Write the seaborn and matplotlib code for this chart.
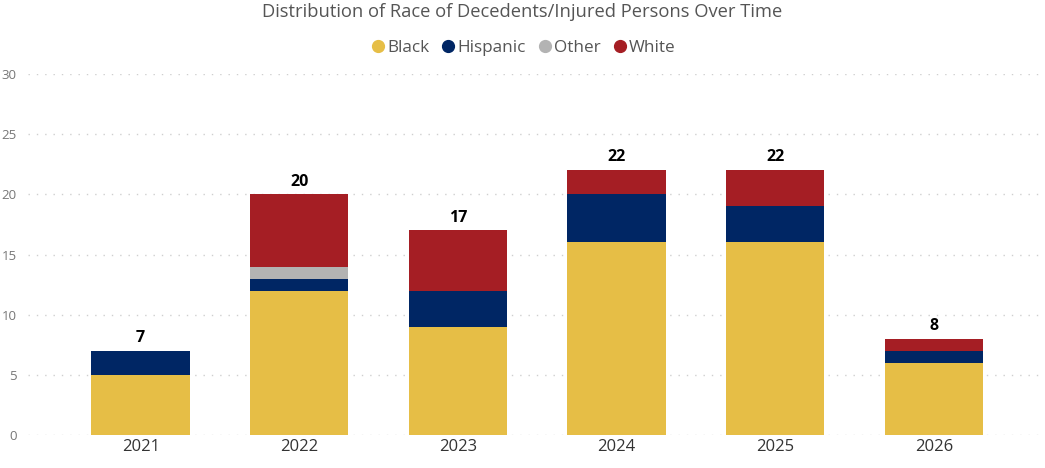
import matplotlib
matplotlib.use("Agg")
import matplotlib.pyplot as plt
from matplotlib.lines import Line2D
import seaborn as sns
import pandas as pd
import numpy as np

years = ["2021", "2022", "2023", "2024", "2025", "2026"]
black = [5, 12, 9, 16, 16, 6]
hispanic = [2, 1, 3, 4, 3, 1]
other = [0, 1, 0, 0, 0, 0]
white = [0, 6, 5, 2, 3, 1]
series_names = ["Black", "Hispanic", "Other", "White"]
colors = {"Black": "#E6BE46", "Hispanic": "#002664", "Other": "#B3B3B3", "White": "#A51E24"}
yticks = [0, 5, 10, 15, 20, 25, 30]

sns.set_theme(style="white")
plt.rcParams["font.family"] = ["Open Sans", "DejaVu Sans"]

df = pd.DataFrame({"Year": years, "Black": black, "Hispanic": hispanic,
                   "Other": other, "White": white})
cum = df[series_names].cumsum(axis=1)
totals = cum["White"].values

fig = plt.figure(figsize=(10.45, 4.68), dpi=100)
ax = fig.add_axes([28 / 1045, 1 - 435 / 468, 1 - 28 / 1045, (435 - 74) / 468])

for name in reversed(series_names):
    sns.barplot(x=df["Year"], y=cum[name], color=colors[name], width=0.62,
                ax=ax, saturation=1, zorder=3, linewidth=0)

for i, t in enumerate(totals):
    ax.text(i, t + 0.4, str(int(t)), ha="center", va="bottom",
            fontsize=11.5, fontweight="bold", color="#000000")

ax.set_ylim(0, 30)
ax.set_xlim(-0.71, 5.70)
ax.set_yticks(yticks)
ax.set_yticklabels([str(v) for v in yticks])
ax.tick_params(axis="y", colors="#777777", labelsize=9.5, length=0, pad=8)
ax.tick_params(axis="x", colors="#333333", labelsize=12, length=0, pad=3)
ax.yaxis.grid(True, linestyle=(0, (1, 5)), color="#CFCFCF", linewidth=1, zorder=0)
ax.xaxis.grid(False)
ax.set_xlabel("")
ax.set_ylabel("")
for s in ax.spines.values():
    s.set_visible(False)

fig.text(0.5, 1 - 12 / 468, "Distribution of Race of Decedents/Injured Persons Over Time",
         ha="center", va="center", fontsize=13.2, color="#555555")

handles = [Line2D([0], [0], marker="o", linestyle="", markersize=8.5,
                  markerfacecolor=colors[n], markeredgecolor=colors[n]) for n in series_names]
leg = fig.legend(handles, series_names, loc="center", bbox_to_anchor=(0.5, 1 - 48 / 468),
                 ncol=4, frameon=False, handletextpad=0.05, columnspacing=0.6,
                 fontsize=12.3, handlelength=1.0)
for t in leg.get_texts():
    t.set_color("#555555")

fig.savefig("out.png", dpi=100)
